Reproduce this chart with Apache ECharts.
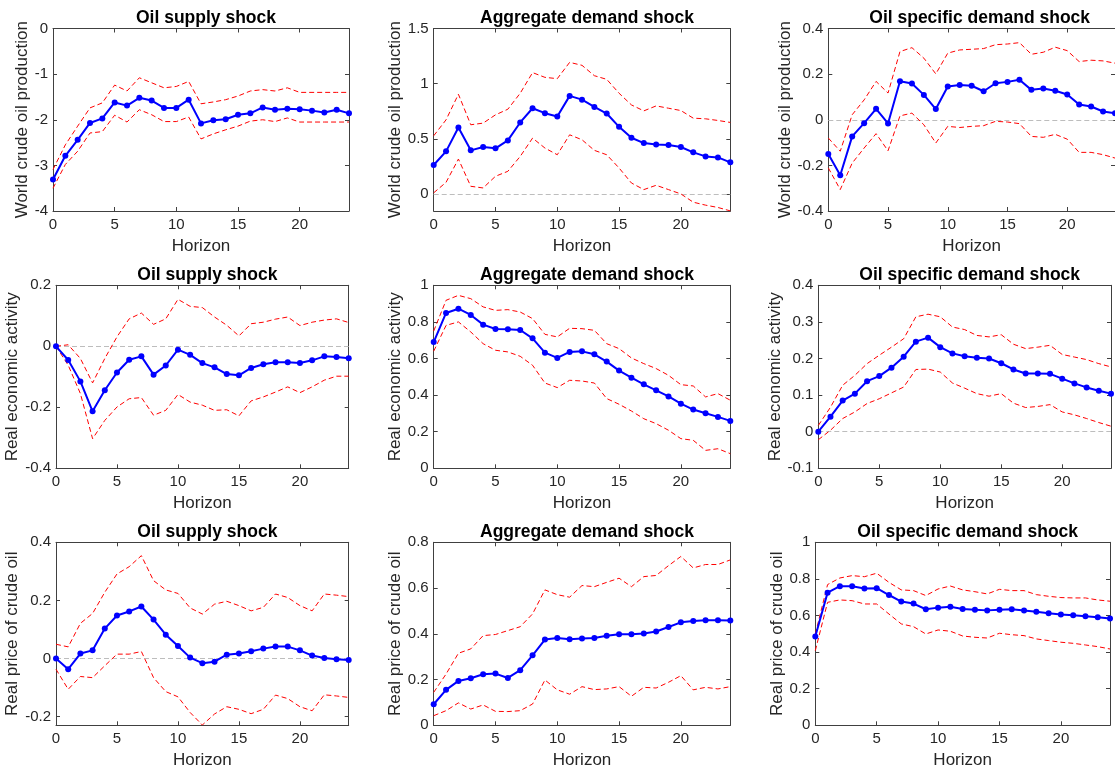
<!DOCTYPE html>
<html><head><meta charset="utf-8">
<script src="https://cdn.jsdelivr.net/npm/echarts@6/dist/echarts.min.js"></script>
<style>html,body{margin:0;padding:0;background:#fff}#c{width:1115px;height:771px}</style>
</head><body><div id="c"></div>
<script>
// ---------------- DATA ----------------
const horizon = [0,1,2,3,4,5,6,7,8,9,10,11,12,13,14,15,16,17,18,19,20,21,22,23,24];
const xTicks = [0,5,10,15,20];

const titles = ['Oil supply shock','Aggregate demand shock','Oil specific demand shock',
                'Oil supply shock','Aggregate demand shock','Oil specific demand shock',
                'Oil supply shock','Aggregate demand shock','Oil specific demand shock'];
const yNames = ['World crude oil production','World crude oil production','World crude oil production',
                'Real economic activity','Real economic activity','Real economic activity',
                'Real price of crude oil','Real price of crude oil','Real price of crude oil'];

// Row 1: world crude oil production
const prodSupply    = [-3.31,-2.79,-2.44,-2.07,-1.97,-1.62,-1.69,-1.52,-1.58,-1.74,-1.74,-1.56,-2.08,-2.01,-1.99,-1.89,-1.86,-1.73,-1.78,-1.76,-1.77,-1.80,-1.84,-1.78,-1.86];
const prodSupplyUp  = [-3.09,-2.55,-2.14,-1.74,-1.63,-1.24,-1.37,-1.08,-1.19,-1.30,-1.27,-1.16,-1.65,-1.61,-1.56,-1.48,-1.37,-1.34,-1.37,-1.30,-1.40,-1.40,-1.40,-1.40,-1.40];
const prodSupplyLo  = [-3.50,-2.98,-2.69,-2.29,-2.26,-1.90,-2.05,-1.78,-1.89,-2.04,-2.04,-1.94,-2.42,-2.31,-2.22,-2.14,-2.03,-2.00,-2.04,-1.96,-2.05,-2.05,-2.05,-2.05,-2.05];
const prodAgg       = [0.262,0.386,0.602,0.395,0.425,0.413,0.485,0.648,0.777,0.732,0.702,0.889,0.855,0.789,0.729,0.608,0.509,0.461,0.449,0.443,0.425,0.377,0.340,0.331,0.286];
const prodAggUp     = [0.527,0.672,0.904,0.627,0.642,0.717,0.768,0.913,1.100,1.057,1.045,1.193,1.166,1.072,1.039,0.913,0.807,0.753,0.798,0.777,0.756,0.687,0.681,0.666,0.648];
const prodAggLo     = [0.010,0.105,0.316,0.069,0.054,0.160,0.205,0.340,0.506,0.416,0.355,0.536,0.491,0.395,0.355,0.235,0.099,0.039,0.078,0.039,0.000,-0.075,-0.102,-0.123,-0.154];
const prodSpec      = [-0.150,-0.243,-0.073,-0.015,0.048,-0.016,0.169,0.159,0.109,0.047,0.146,0.152,0.149,0.125,0.160,0.166,0.175,0.131,0.137,0.127,0.111,0.067,0.058,0.036,0.028];
const prodSpecUp    = [-0.080,-0.138,0.022,0.087,0.168,0.117,0.299,0.316,0.270,0.201,0.292,0.306,0.309,0.312,0.329,0.332,0.338,0.287,0.296,0.318,0.303,0.255,0.261,0.258,0.248];
const prodSpecLo    = [-0.211,-0.306,-0.190,-0.124,-0.061,-0.136,0.017,0.029,-0.022,-0.102,-0.029,-0.034,-0.029,-0.026,-0.007,-0.010,-0.017,-0.073,-0.077,-0.064,-0.085,-0.143,-0.143,-0.153,-0.168];

// Row 2: real economic activity
const reaSupply     = [0,-0.045,-0.115,-0.213,-0.144,-0.086,-0.044,-0.033,-0.093,-0.063,-0.011,-0.028,-0.055,-0.069,-0.091,-0.095,-0.071,-0.059,-0.052,-0.052,-0.055,-0.046,-0.033,-0.035,-0.039];
const reaSupplyUp   = [0,0.005,-0.040,-0.120,-0.040,0.031,0.090,0.109,0.072,0.090,0.154,0.131,0.127,0.096,0.069,0.034,0.074,0.079,0.089,0.096,0.068,0.079,0.086,0.090,0.078];
const reaSupplyLo   = [0,-0.062,-0.155,-0.303,-0.243,-0.199,-0.172,-0.168,-0.226,-0.210,-0.158,-0.183,-0.193,-0.210,-0.208,-0.228,-0.179,-0.166,-0.150,-0.133,-0.152,-0.133,-0.111,-0.098,-0.098];
const reaAgg        = [0.690,0.849,0.872,0.838,0.785,0.761,0.760,0.756,0.710,0.632,0.603,0.636,0.639,0.623,0.583,0.534,0.495,0.459,0.426,0.393,0.353,0.321,0.301,0.281,0.259];
const reaAggUp      = [0.750,0.918,0.945,0.927,0.882,0.863,0.867,0.854,0.818,0.732,0.718,0.765,0.763,0.754,0.681,0.654,0.603,0.572,0.545,0.508,0.457,0.450,0.390,0.408,0.372];
const reaAggLo      = [0.640,0.781,0.800,0.745,0.681,0.645,0.636,0.612,0.563,0.466,0.441,0.481,0.477,0.466,0.381,0.350,0.313,0.271,0.244,0.208,0.162,0.153,0.098,0.107,0.080];
const reaSpec       = [0,0.041,0.085,0.104,0.138,0.152,0.175,0.205,0.246,0.257,0.231,0.214,0.206,0.202,0.200,0.187,0.170,0.159,0.159,0.158,0.145,0.132,0.121,0.112,0.104];
const reaSpecUp     = [0.017,0.067,0.127,0.154,0.186,0.209,0.231,0.254,0.314,0.321,0.314,0.286,0.279,0.263,0.259,0.265,0.239,0.227,0.231,0.236,0.211,0.204,0.197,0.186,0.177];
const reaSpecLo     = [-0.022,0.004,0.036,0.054,0.077,0.090,0.106,0.122,0.170,0.171,0.163,0.133,0.119,0.104,0.097,0.104,0.078,0.066,0.069,0.074,0.054,0.046,0.036,0.025,0.015];

// Row 3: real price of crude oil
const rpoSupply     = [0,-0.037,0.017,0.028,0.103,0.148,0.162,0.179,0.134,0.082,0.043,0.003,-0.016,-0.011,0.013,0.017,0.025,0.034,0.041,0.041,0.028,0.010,0.002,-0.003,-0.005];
const rpoSupplyUp   = [0.049,0.040,0.121,0.155,0.228,0.291,0.316,0.354,0.268,0.236,0.224,0.174,0.153,0.187,0.197,0.182,0.164,0.176,0.222,0.210,0.182,0.164,0.222,0.218,0.213];
const rpoSupplyLo   = [-0.037,-0.106,-0.062,-0.066,-0.025,0.015,0.015,0.024,-0.066,-0.114,-0.132,-0.186,-0.229,-0.191,-0.166,-0.175,-0.190,-0.175,-0.126,-0.138,-0.166,-0.180,-0.125,-0.129,-0.134];
const rpoAgg        = [0.092,0.155,0.194,0.206,0.223,0.226,0.207,0.241,0.306,0.375,0.382,0.376,0.379,0.382,0.391,0.398,0.398,0.401,0.410,0.430,0.450,0.456,0.459,0.459,0.458];
const rpoAggUp      = [0.144,0.224,0.315,0.334,0.392,0.397,0.414,0.431,0.487,0.592,0.571,0.560,0.611,0.606,0.625,0.643,0.606,0.650,0.655,0.698,0.738,0.688,0.703,0.703,0.723];
const rpoAggLo      = [0.042,0.064,0.098,0.071,0.089,0.061,0.060,0.064,0.093,0.198,0.155,0.136,0.169,0.156,0.159,0.169,0.127,0.166,0.163,0.188,0.217,0.155,0.166,0.159,0.169];
const rpoSpec       = [0.485,0.725,0.760,0.760,0.747,0.749,0.712,0.676,0.665,0.634,0.643,0.648,0.636,0.632,0.628,0.632,0.634,0.627,0.621,0.612,0.605,0.601,0.596,0.590,0.583];
const rpoSpecUp     = [0.499,0.769,0.805,0.818,0.812,0.831,0.781,0.740,0.736,0.709,0.745,0.761,0.740,0.730,0.718,0.743,0.736,0.736,0.714,0.705,0.698,0.696,0.696,0.685,0.678];
const rpoSpecLo     = [0.408,0.672,0.685,0.681,0.663,0.663,0.608,0.554,0.539,0.499,0.521,0.514,0.488,0.481,0.477,0.503,0.495,0.490,0.472,0.463,0.454,0.448,0.439,0.430,0.417];

// y-axis ranges and tick labels
const yMin   = [-4, -0.155, -0.4, -0.4, 0, -0.1, -0.23, 0, 0];
const yMax   = [0, 1.5, 0.4, 0.2, 1, 0.4, 0.4, 0.8, 1];
const yTicks = [[-4,-3,-2,-1,0],[0,0.5,1,1.5],[-0.4,-0.2,0,0.2,0.4],
                [-0.4,-0.2,0,0.2],[0,0.2,0.4,0.6,0.8,1],[-0.1,0,0.1,0.2,0.3,0.4],
                [-0.2,0,0.2,0.4],[0,0.2,0.4,0.6,0.8],[0,0.2,0.4,0.6,0.8,1]];
const zeroLine = [false,true,true,true,false,true,true,false,false];

const panels = [
  [prodSupply, prodSupplyUp, prodSupplyLo],
  [prodAgg, prodAggUp, prodAggLo],
  [prodSpec, prodSpecUp, prodSpecLo],
  [reaSupply, reaSupplyUp, reaSupplyLo],
  [reaAgg, reaAggUp, reaAggLo],
  [reaSpec, reaSpecUp, reaSpecLo],
  [rpoSupply, rpoSupplyUp, rpoSupplyLo],
  [rpoAgg, rpoAggUp, rpoAggLo],
  [rpoSpec, rpoSpecUp, rpoSpecLo]
];

// ---------------- LAYOUT ----------------
const layout = [
  {left:53,    top:28.5,  width:296,   height:182.5},
  {left:433.7, top:28.5,  width:296.6, height:182.5},
  {left:828.3, top:28.5,  width:292.7, height:182.5},
  {left:56,    top:285.3, width:292.7, height:183},
  {left:433.7, top:285.3, width:296.6, height:183},
  {left:818.3, top:285.3, width:292.7, height:183},
  {left:56,    top:542.3, width:292.7, height:183},
  {left:433.7, top:542.3, width:296.6, height:183},
  {left:815.3, top:542.3, width:294.7, height:183}
];
const yNameGap = [20, 27, 30, 30, 26, 30, 31, 26, 28.5];
const titleTop = [4.5, 261.5, 518.5];

const FONT = 'Liberation Sans, Arial, Helvetica, sans-serif';
const AX = '#404040';
const TXT = '#262626';
const fmt = v => String(Math.round(v * 1000) / 1000);

const grid = [], xAxis = [], yAxis = [], series = [], title = [];
layout.forEach((g, i) => {
  grid.push({left:g.left, top:g.top, width:g.width, height:g.height, containLabel:false});
  title.push({text:titles[i], left:g.left + g.width/2, top:titleTop[Math.floor(i/3)], textAlign:'center',
    textStyle:{fontFamily:FONT, fontSize:17.5, fontWeight:'bold', color:'#000'}});
  const lineSt = {show:true, onZero:false, lineStyle:{color:AX, width:1}};
  xAxis.push({type:'value', gridIndex:i, min:0, max:24, position:'bottom',
    axisLine:lineSt, splitLine:{show:false},
    axisTick:{show:true, inside:true, length:4, customValues:xTicks, lineStyle:{color:AX}},
    axisLabel:{customValues:xTicks, color:TXT, fontSize:15, fontFamily:FONT, margin:6, formatter:fmt},
    name:'Horizon', nameLocation:'middle', nameGap:27,
    nameTextStyle:{fontFamily:FONT, fontSize:17, color:TXT}});
  xAxis.push({type:'value', gridIndex:i, min:0, max:24, position:'top',
    axisLine:lineSt, splitLine:{show:false},
    axisTick:{show:true, inside:true, length:4, customValues:xTicks, lineStyle:{color:AX}},
    axisLabel:{show:false}});
  yAxis.push({type:'value', gridIndex:i, min:yMin[i], max:yMax[i], position:'left',
    axisLine:lineSt, splitLine:{show:false},
    axisTick:{show:true, inside:true, length:4, customValues:yTicks[i], lineStyle:{color:AX}},
    axisLabel:{customValues:yTicks[i], color:TXT, fontSize:15, fontFamily:FONT, margin:5, formatter:fmt},
    name:yNames[i], nameLocation:'middle', nameGap:yNameGap[i], nameRotate:90,
    nameTextStyle:{fontFamily:FONT, fontSize:17, color:TXT}});
  yAxis.push({type:'value', gridIndex:i, min:yMin[i], max:yMax[i], position:'right',
    axisLine:lineSt, splitLine:{show:false},
    axisTick:{show:true, inside:true, length:4, customValues:yTicks[i], lineStyle:{color:AX}},
    axisLabel:{show:false}});

  const [irf, up, lo] = panels[i];
  const toPts = arr => horizon.map((h, k) => [h, arr[k]]);
  const band = arr => ({type:'line', xAxisIndex:2*i, yAxisIndex:2*i, data:toPts(arr), symbol:'none',
    lineStyle:{color:'#ff0000', width:1, type:[5,3]}, z:2, silent:true});
  series.push(band(up));
  series.push(band(lo));
  const main = {type:'line', xAxisIndex:2*i, yAxisIndex:2*i, data:toPts(irf), symbol:'circle', symbolSize:6,
    showSymbol:true, clip:false, lineStyle:{color:'#0000ff', width:2}, itemStyle:{color:'#0000ff'}, z:3};
  if (zeroLine[i]) {
    main.markLine = {silent:true, symbol:'none', label:{show:false}, z:1,
      lineStyle:{color:'#bdbdbd', type:[5,3], width:1}, data:[{yAxis:0}]};
  }
  series.push(main);
});

const chart = echarts.init(document.getElementById('c'), null, {renderer:'canvas'});
chart.setOption({animation:false, backgroundColor:'#fff', title, grid, xAxis, yAxis, series});
</script></body></html>
